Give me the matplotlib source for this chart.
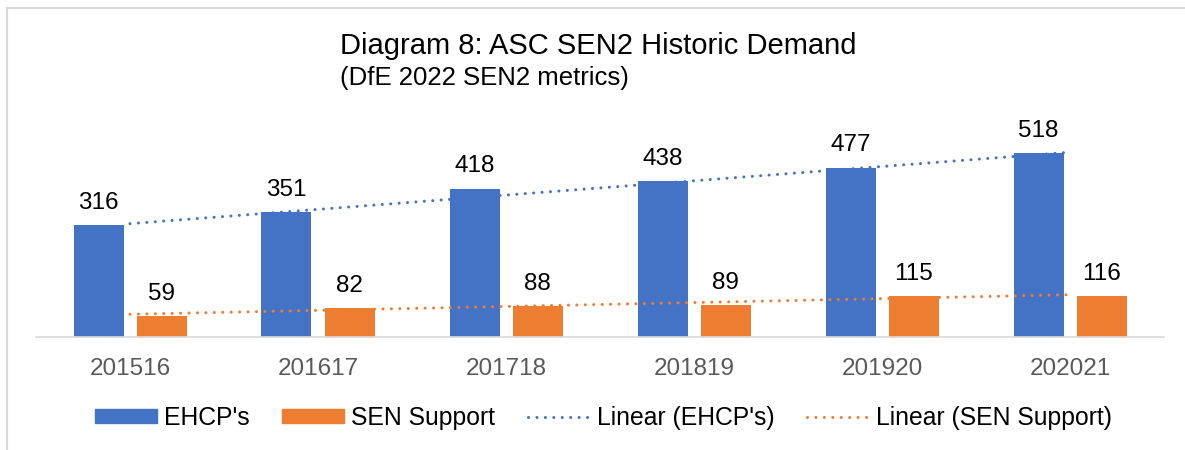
import numpy as np
import matplotlib
matplotlib.use("Agg")
import matplotlib.pyplot as plt
from matplotlib.patches import Rectangle
from matplotlib.lines import Line2D

plt.rcParams["font.family"] = ["Liberation Sans", "DejaVu Sans"]

# -------------------------
# Data
# -------------------------
years = ["201516", "201617", "201718", "201819", "201920", "202021"]
ehcp = [316, 351, 418, 438, 477, 518]
sen_support = [59, 82, 88, 89, 115, 116]

BLUE = "#4472C4"
ORANGE = "#ED7D31"
GRID = "#D9D9D9"

W, H = 1185, 450
fig = plt.figure(figsize=(W / 100, H / 100), dpi=100)

# outer chart frame (runs off right/bottom of the picture)
fig.patches.append(Rectangle((6.5 / W, -0.1), 1.2, 1 - 7.5 / H + 0.1,
                             transform=fig.transFigure, fill=False,
                             edgecolor=GRID, lw=1.5))

# plot area: baseline at y=337px, categories 36..1164px
ax = fig.add_axes([36 / W, 1 - 337 / H, 1128 / W, 237 / H])
x = np.arange(1, len(years) + 1)
bw = 50 / 188
gap = 13 / 188
px_per_unit = 184 / 518
ax.set_xlim(0.5, len(years) + 0.5)
ax.set_ylim(0, 237 / px_per_unit)

b1 = ax.bar(x - (bw + gap) / 2, ehcp, bw, color=BLUE)
b2 = ax.bar(x + (bw + gap) / 2, sen_support, bw, color=ORANGE)

for bars, vals in ((b1, ehcp), (b2, sen_support)):
    for r, v in zip(bars, vals):
        ax.annotate(str(v), (r.get_x() + r.get_width() / 2, v),
                    xytext=(0, 8), textcoords="offset points",
                    ha="center", va="bottom", fontsize=17.5, color="black")

# linear trendlines (least squares over category index)
dot = (0, (0.01, 2.75))
for vals, c in ((ehcp, BLUE), (sen_support, ORANGE)):
    k, b = np.polyfit(x, vals, 1)
    ax.plot(x, k * x + b, color=c, lw=2.2, linestyle=dot,
            dash_capstyle="round")

ax.set_xticks(x)
ax.set_xticklabels(years, fontsize=17.5, color="#595959")
ax.tick_params(axis="x", length=0, pad=15)
ax.set_yticks([])
for s in ("top", "right", "left"):
    ax.spines[s].set_visible(False)
ax.spines["bottom"].set_color(GRID)
ax.spines["bottom"].set_linewidth(1.2)

fig.text(340 / W, 1 - 46 / H, "Diagram 8: ASC SEN2 Historic Demand",
         fontsize=21, ha="left", va="center")
fig.text(340 / W, 1 - 78 / H, "(DfE 2022 SEN2 metrics)",
         fontsize=18.5, ha="left", va="center")

handles = [
    Rectangle((0, 0), 1, 1, color=BLUE),
    Rectangle((0, 0), 1, 1, color=ORANGE),
    Line2D([], [], color=BLUE, lw=2.2, linestyle=dot, dash_capstyle="round"),
    Line2D([], [], color=ORANGE, lw=2.2, linestyle=dot, dash_capstyle="round"),
]
labels = ["EHCP's", "SEN Support", "Linear (EHCP's)", "Linear (SEN Support)"]
fig.legend(handles, labels, loc="center", bbox_to_anchor=(0.5 + 11 / W, 1 - 418 / H),
           ncol=4, frameon=False, fontsize=17.8, handlelength=2.5,
           handleheight=0.5, handletextpad=0.3, columnspacing=1.3)

fig.savefig("out.png", dpi=100)
